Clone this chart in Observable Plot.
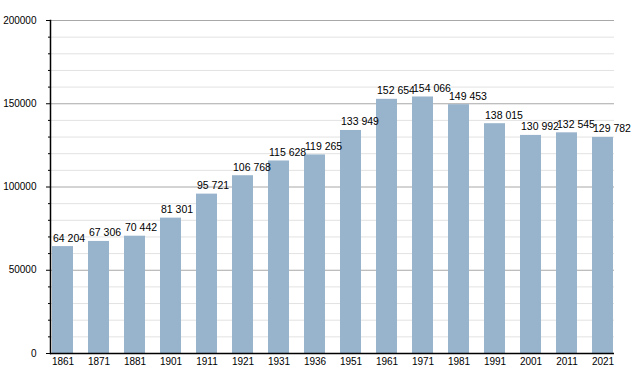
<!DOCTYPE html>
<html>
<head>
<meta charset="utf-8">
<script src="https://cdn.jsdelivr.net/npm/d3@7"></script>
<script src="https://cdn.jsdelivr.net/npm/@observablehq/plot@0.6"></script>
<style>
  html, body { margin: 0; padding: 0; background: white; }
</style>
</head>
<body>
<div id="chart"></div>
<script>
const years = ["1861","1871","1881","1901","1911","1921","1931","1936","1951","1961","1971","1981","1991","2001","2011","2021"];
const population = [64204, 67306, 70442, 81301, 95721, 106768, 115628, 119265, 133949, 152654, 154066, 149453, 138015, 130992, 132545, 129782];
const majorTicks = [0, 50000, 100000, 150000, 200000];
const minorTicks = [10000, 20000, 30000, 40000, 60000, 70000, 80000, 90000, 110000, 120000, 130000, 140000, 160000, 170000, 180000, 190000];

const data = years.map((y, i) => ({year: y, pop: population[i]}));
const fmt = d3.formatLocale({thousands: " ", grouping: [3], decimal: ".", currency: ["", ""]}).format(",d");

const chart = Plot.plot({
  width: 643,
  height: 373,
  marginTop: 20,
  marginBottom: 20,
  marginLeft: 50,
  marginRight: 29,
  style: {fontFamily: "'Liberation Sans', Arial, sans-serif", fontSize: "10px", background: "white", color: "black"},
  x: {type: "band", domain: years, paddingInner: 0.43, paddingOuter: 0, insetLeft: 1, insetRight: 1, axis: null, label: null},
  y: {domain: [0, 200000], axis: null, label: null},
  marks: [
    Plot.ruleY(minorTicks, {stroke: "#e2e2e2", strokeWidth: 1}),
    Plot.ruleY(majorTicks, {stroke: "#a8a8a8", strokeWidth: 1}),
    Plot.barY(data, {x: "year", y: "pop", fill: "#98b3cc"}),
    Plot.text(data, {x: "year", y: "pop", text: d => fmt(d.pop), textAnchor: "start", lineAnchor: "bottom", dx: -10, dy: -5, fill: "black", fontSize: 10.5}),
    Plot.axisX({tickSize: 0, tickPadding: 4, fontSize: 10, fill: "black", label: null}),
    Plot.axisY(majorTicks, {tickSize: 4, tickPadding: 10, tickFormat: d => String(d), fontSize: 10, stroke: "black", fill: "black", label: null}),
    Plot.axisY(minorTicks, {tickSize: 2, tickFormat: null, text: null, stroke: "black", label: null}),
    Plot.ruleY([0], {stroke: "black", strokeWidth: 1.5}),
    Plot.frame({anchor: "left", stroke: "black", strokeWidth: 1.5})
  ]
});
document.getElementById("chart").appendChild(chart);
</script>
</body>
</html>
